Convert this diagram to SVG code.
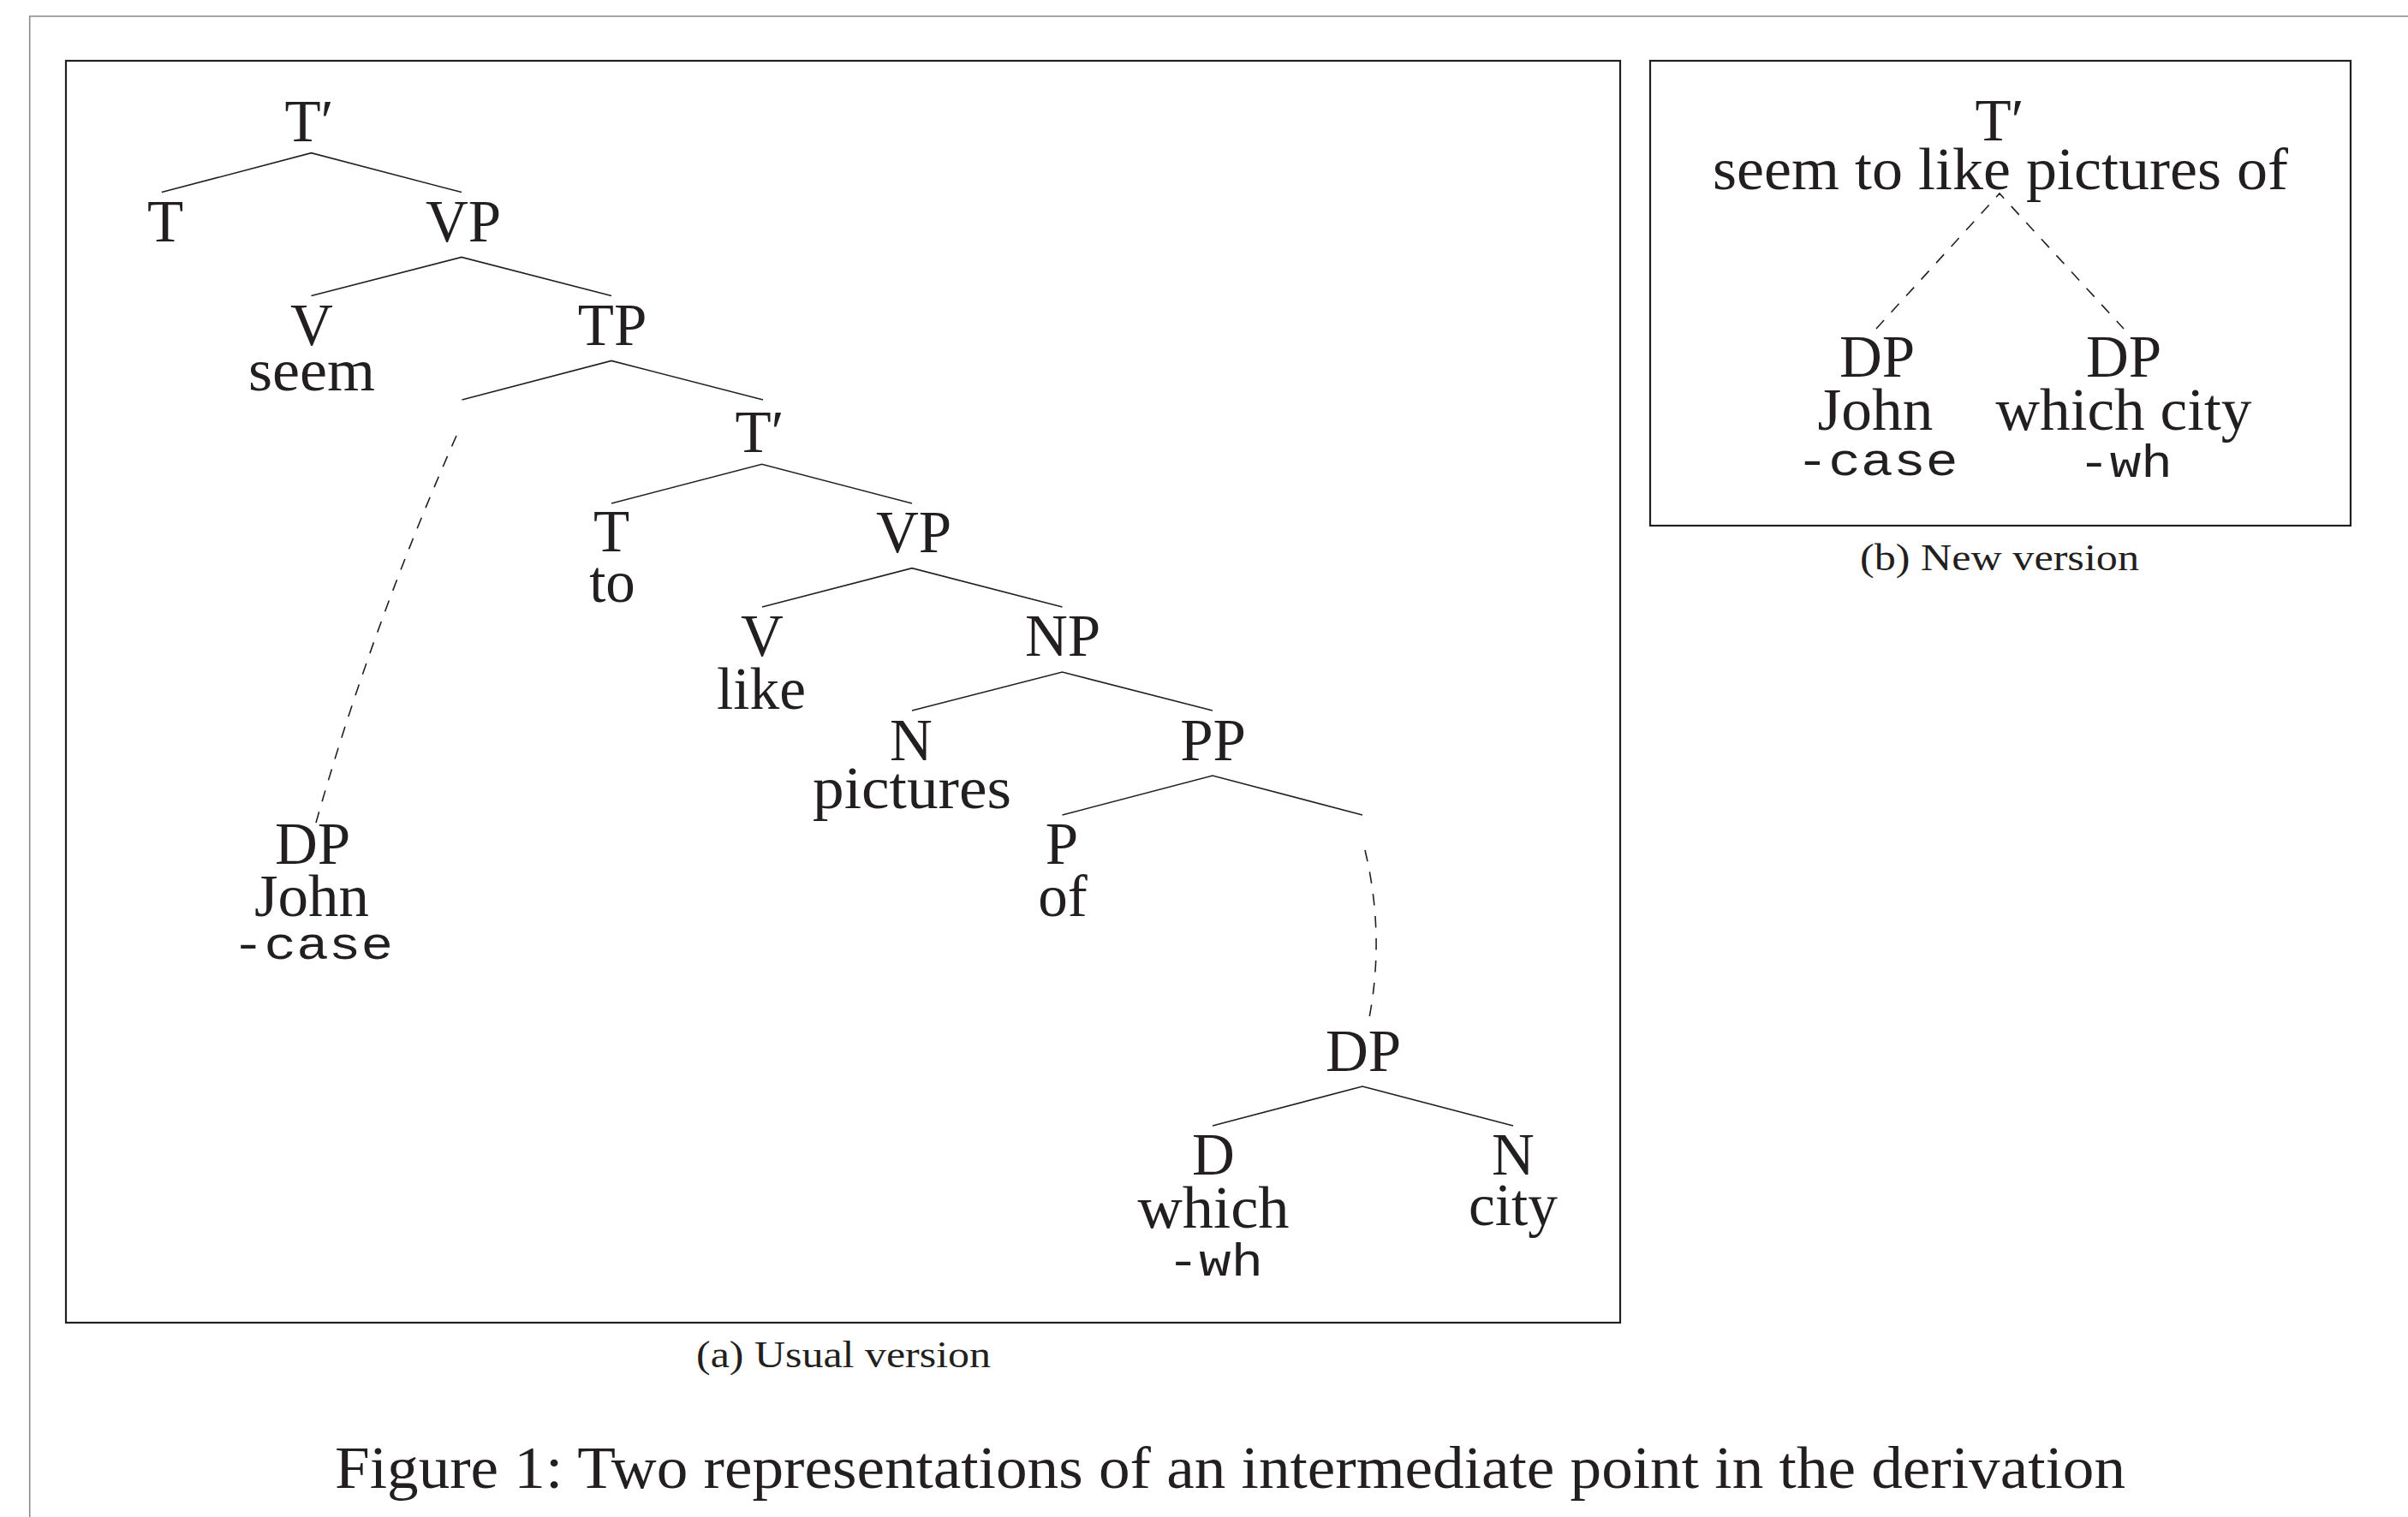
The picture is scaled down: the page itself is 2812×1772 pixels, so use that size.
<svg xmlns="http://www.w3.org/2000/svg" width="2812" height="1772" viewBox="0 0 2812 1772">
<style>
text{font-family:"Liberation Serif","Times New Roman",serif;fill:#231f20;text-anchor:middle}
.n{font-size:69px}
.tt{font-family:"Liberation Mono","Courier New",monospace;font-size:53px}
.cap{font-size:70px}
.sub{font-size:45px}
.e{stroke:#231f20;stroke-width:1.6;fill:none}
.d{stroke:#231f20;stroke-width:1.6;fill:none;stroke-dasharray:13.5 12.5}
.box{fill:none;stroke:#231f20;stroke-width:2.2}
</style>
<rect width="2812" height="1772" fill="#fff"/>
<path d="M34.7 1772V19H2812" fill="none" stroke="#8a8a8a" stroke-width="1.6"/>
<rect class="box" x="77" y="71" width="1815" height="1474"/>
<rect class="box" x="1927" y="71" width="818" height="543"/>

<g id="connectors">
<path class="e" d="M188.8 224.6L363.5 178.7L539 224.6"/>
<path class="e" d="M363.5 345.6L539 300.4L714 345.6"/>
<path class="e" d="M539.5 467L714 421.4L891 467"/>
<path class="e" d="M714 588L889.7 542.3L1065 588"/>
<path class="e" d="M890 709L1065 663.7L1240.5 709"/>
<path class="e" d="M1065 830L1240.5 785L1416 830"/>
<path class="e" d="M1240.5 952L1416 906L1591 952"/>
<path class="e" d="M1416 1315L1591 1269L1767 1315"/>
<path class="d" d="M533 509Q433 735 369 961"/>
<path class="d" d="M1594 993Q1618 1093.5 1598 1194"/>
<path class="d" d="M2191 384L2335 226L2480 384"/>
</g>

<g id="a-Tbar"><text class="n" x="361" y="164.6">T′</text></g>
<g id="a-T"><text class="n" x="193" y="282.4">T</text></g>
<g id="a-VP"><text class="n" x="541" y="282.4">VP</text></g>
<g id="a-V-seem"><text class="n" x="364" y="402.6">V</text><text class="n" x="364" y="456" textLength="148" lengthAdjust="spacingAndGlyphs">seem</text></g>
<g id="a-TP"><text class="n" x="715" y="402.6">TP</text></g>
<g id="a-Tbar2"><text class="n" x="887" y="528">T′</text></g>
<g id="a-T-to"><text class="n" x="714" y="644">T</text><text class="n" x="715" y="703">to</text></g>
<g id="a-VP2"><text class="n" x="1067" y="645">VP</text></g>
<g id="a-V-like"><text class="n" x="890" y="766">V</text><text class="n" x="889" y="827.5" textLength="104" lengthAdjust="spacingAndGlyphs">like</text></g>
<g id="a-NP"><text class="n" x="1241" y="766">NP</text></g>
<g id="a-N-pictures"><text class="n" x="1064" y="887.5">N</text><text class="n" x="1065" y="944" textLength="232" lengthAdjust="spacingAndGlyphs">pictures</text></g>
<g id="a-PP"><text class="n" x="1416.5" y="887.5">PP</text></g>
<g id="a-P-of"><text class="n" x="1240" y="1009">P</text><text class="n" x="1241" y="1070">of</text></g>
<g id="a-DP-John"><text class="n" x="365" y="1009">DP</text><text class="n" x="364" y="1070" textLength="134" lengthAdjust="spacingAndGlyphs">John</text><text class="tt" x="365" y="1120" textLength="188" lengthAdjust="spacingAndGlyphs">-case</text></g>
<g id="a-DP"><text class="n" x="1592" y="1250.6">DP</text></g>
<g id="a-D-which"><text class="n" x="1417" y="1372">D</text><text class="n" x="1417" y="1434" textLength="177" lengthAdjust="spacingAndGlyphs">which</text><text class="tt" x="1419" y="1490" textLength="112" lengthAdjust="spacingAndGlyphs">-wh</text></g>
<g id="a-N-city"><text class="n" x="1767" y="1372">N</text><text class="n" x="1767" y="1430.6" textLength="104" lengthAdjust="spacingAndGlyphs">city</text></g>

<g id="b-Tbar"><text class="n" x="2335" y="164.4">T′</text><text class="n" x="2336" y="221" textLength="672" lengthAdjust="spacingAndGlyphs">seem to like pictures of</text></g>
<g id="b-DP-John"><text class="n" x="2192" y="440">DP</text><text class="n" x="2190" y="501.5" textLength="135" lengthAdjust="spacingAndGlyphs">John</text><text class="tt" x="2192" y="555" textLength="189" lengthAdjust="spacingAndGlyphs">-case</text></g>
<g id="b-DP-which"><text class="n" x="2480" y="440">DP</text><text class="n" x="2480" y="501.5" textLength="299" lengthAdjust="spacingAndGlyphs">which city</text><text class="tt" x="2482" y="557" textLength="110" lengthAdjust="spacingAndGlyphs">-wh</text></g>

<g id="captions">
<text class="sub" x="985" y="1596.7" textLength="344" lengthAdjust="spacingAndGlyphs">(a) Usual version</text>
<text class="sub" x="2335" y="666" textLength="326" lengthAdjust="spacingAndGlyphs">(b) New version</text>
<text class="cap" x="1436.5" y="1738.3" textLength="2091" lengthAdjust="spacingAndGlyphs">Figure 1: Two representations of an intermediate point in the derivation</text>
</g>
</svg>
